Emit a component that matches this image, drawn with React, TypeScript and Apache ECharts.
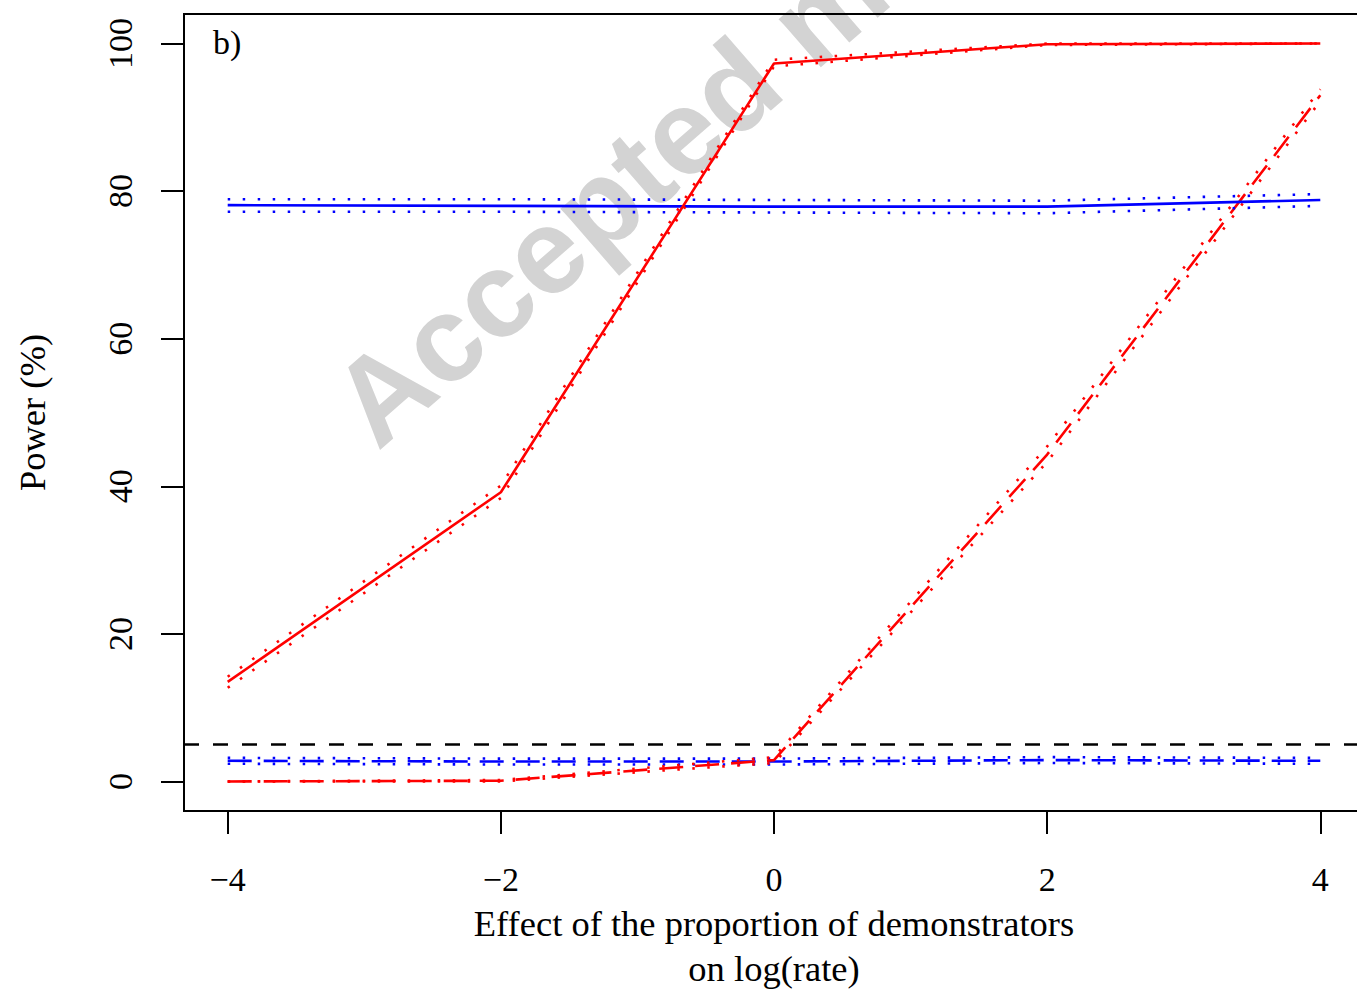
import React, { useEffect, useRef } from "react";
import * as echarts from "echarts";

const xValues = [-4, -2, 0, 2, 4];
const xTicks = [-4, -2, 0, 2, 4];
const yTicks = [0, 20, 40, 60, 80, 100];

const redSolid = [13.5, 39.2, 97.3, 99.9, 100];
const redSolidLo = [12.7, 38.4, 96.9, 99.8, 100];
const redSolidHi = [14.2, 40.1, 97.8, 100, 100];

const blueSolid = [78.1, 78.0, 77.9, 77.9, 78.8];
const blueSolidLo = [77.2, 77.2, 77.1, 77.0, 78.0];
const blueSolidHi = [78.9, 78.9, 78.8, 78.7, 79.6];

const redDash = [0, 0.1, 2.9, 44.3, 93.0];
const redDashLo = [0, 0, 2.5, 43.3, 92.2];
const redDashHi = [0, 0.2, 3.3, 45.4, 93.8];

const blueDash = [2.8, 2.7, 2.7, 2.9, 2.8];
const blueDashLo = [2.4, 2.3, 2.3, 2.5, 2.4];
const blueDashHi = [3.2, 3.1, 3.1, 3.3, 3.2];

const refLevel = 5;

const RED = "#ff0000";
const BLUE = "#0000ff";
const SERIF = "'Liberation Serif', 'Times New Roman', serif";

const pairs = (ys: number[]) => xValues.map((x, i) => [x, ys[i]]);

const lineSeries = (name: string, ys: number[], color: string, type: any, z = 3) => ({
  name,
  type: "line",
  data: pairs(ys),
  showSymbol: false,
  symbol: "none",
  z,
  lineStyle: { color, width: 2.6, type, cap: "butt" },
  silent: true,
});

const DOT: any = [2.5, 12.5];
const DASH: any = [24, 12];

export default function App() {
  const ref = useRef<HTMLDivElement>(null);

  useEffect(() => {
    if (!ref.current) return;
    const chart = echarts.init(ref.current, undefined, { renderer: "svg" });
    const fmt = (v: number) => (v < 0 ? "\u2212" + Math.abs(v) : String(v));
    chart.setOption({
      animation: false,
      backgroundColor: "#ffffff",
      grid: {
        left: 184,
        top: 14,
        width: 1180,
        height: 797,
        outerBoundsMode: "none",
        containLabel: false,
        show: true,
        borderColor: "#000",
        borderWidth: 2,
        backgroundColor: "transparent",
      },
      xAxis: {
        type: "value",
        min: -4.32,
        max: 4.32,
        splitLine: { show: false },
        axisLine: { show: true, onZero: false, lineStyle: { color: "#000", width: 2 } },
        axisTick: {
          show: true,
          inside: false,
          length: 23,
          customValues: xTicks,
          lineStyle: { color: "#000", width: 2 },
        },
        axisLabel: {
          show: true,
          customValues: xTicks,
          formatter: fmt,
          color: "#000",
          fontFamily: SERIF,
          fontSize: 34,
          margin: 51,
        },
        name: "Effect of the proportion of demonstrators\non log(rate)",
        nameLocation: "middle",
        nameGap: 85,
        nameTextStyle: { color: "#000", fontFamily: SERIF, fontSize: 36.5, lineHeight: 45 },
      },
      yAxis: {
        type: "value",
        min: -4,
        max: 104,
        splitLine: { show: false },
        axisLine: { show: true, onZero: false, lineStyle: { color: "#000", width: 2 } },
        axisTick: {
          show: true,
          inside: false,
          length: 23,
          customValues: yTicks,
          lineStyle: { color: "#000", width: 2 },
        },
        axisLabel: {
          show: true,
          customValues: yTicks,
          rotate: 90,
          color: "#000",
          fontFamily: SERIF,
          fontSize: 34,
          margin: 47,
        },
        name: "Power (%)",
        nameLocation: "middle",
        nameGap: 133,
        nameRotate: 90,
        nameTextStyle: { color: "#000", fontFamily: SERIF, fontSize: 36.5 },
      },
      graphic: [
        {
          type: "text",
          z: -10,
          x: 390,
          y: 466,
          rotation: (41 * Math.PI) / 180,
          silent: true,
          style: {
            text: "Accepted manuscript",
            fill: "#d3d3d3",
            font: "bold 121px 'Liberation Sans', Arial, sans-serif",
            textAlign: "left",
            textVerticalAlign: "bottom",
          },
        },
        {
          type: "text",
          left: 213,
          top: 25,
          silent: true,
          style: {
            text: "b)",
            fill: "#000",
            font: "34px " + SERIF,
          },
        },
      ],
      series: [
        {
          ...lineSeries("blueDash", blueDash, BLUE, DASH),
          markLine: {
            silent: true,
            symbol: "none",
            label: { show: false },
            lineStyle: { color: "#000", width: 2.5, type: [15, 14] },
            data: [{ yAxis: refLevel }],
          },
        },
        lineSeries("blueDashLo", blueDashLo, BLUE, DOT),
        lineSeries("blueDashHi", blueDashHi, BLUE, DOT),
        lineSeries("redDash", redDash, RED, DASH),
        lineSeries("redDashLo", redDashLo, RED, DOT),
        lineSeries("redDashHi", redDashHi, RED, DOT),
        lineSeries("blueSolid", blueSolid, BLUE, "solid"),
        lineSeries("blueSolidLo", blueSolidLo, BLUE, DOT),
        lineSeries("blueSolidHi", blueSolidHi, BLUE, DOT),
        lineSeries("redSolid", redSolid, RED, "solid"),
        lineSeries("redSolidLo", redSolidLo, RED, DOT),
        lineSeries("redSolidHi", redSolidHi, RED, DOT),
      ],
    });
    return () => chart.dispose();
  }, []);

  return (
    <div
      ref={ref}
      style={{ position: "fixed", left: 0, top: 0, width: 1357, height: 989, background: "#fff" }}
    />
  );
}
